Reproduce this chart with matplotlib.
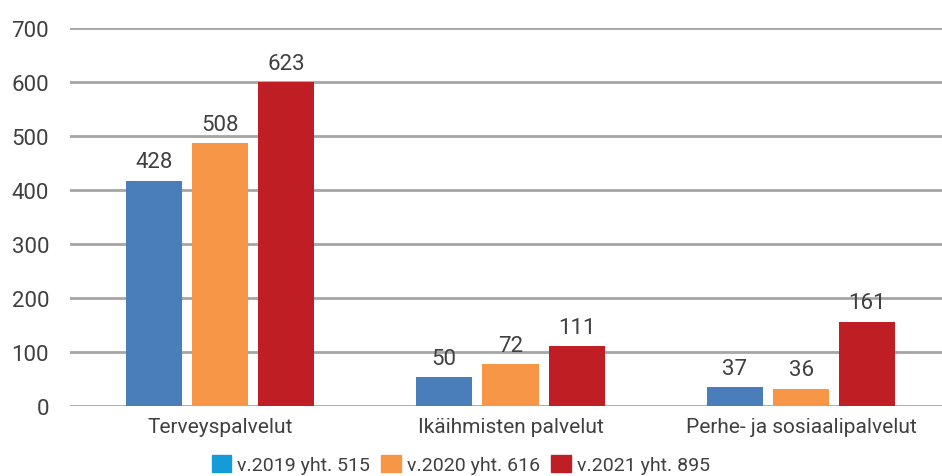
import matplotlib.pyplot as plt
from matplotlib.patches import Patch
import numpy as np

plt.rcParams['font.family'] = ['Roboto', 'DejaVu Sans']

categories = ['Terveyspalvelut', 'Ikäihmisten palvelut', 'Perhe- ja sosiaalipalvelut']
series_names = ['v.2019 yht. 515', 'v.2020 yht. 616', 'v.2021 yht. 895']
# bar heights as drawn in the picture, and the printed labels
heights = [
    [417, 54, 35],
    [487, 78, 32],
    [600, 111, 156],
]
labels = [
    ['428', '50', '37'],
    ['508', '72', '36'],
    ['623', '111', '161'],
]
bar_colors = ['#4a7ebb', '#f79646', '#be1e24']
legend_colors = ['#159bd7', '#f79646', '#be1e24']
text_color = '#404040'

fig = plt.figure(figsize=(9.42, 4.77), dpi=100)
ax = fig.add_axes([70 / 942, 1 - 407 / 477, 872 / 942, 378 / 477])

x = np.arange(len(categories))
width = 0.193
step = 0.228
for i in range(3):
    pos = x + (i - 1) * step
    bars = ax.bar(pos, heights[i], width, color=bar_colors[i], zorder=3)
    for b, lab in zip(bars, labels[i]):
        ax.annotate(lab, (b.get_x() + b.get_width() / 2, b.get_height()),
                    xytext=(0, 6), textcoords='offset points',
                    ha='center', va='bottom', fontsize=16, color=text_color)

ax.set_xlim(-0.516, 2.485)
ax.set_ylim(0, 700)
ax.set_yticks(range(0, 701, 100))
ax.set_xticks(x)
ax.set_xticklabels(categories)
ax.grid(axis='y', color='#a6a6a6', linewidth=2, zorder=0)
for s in ax.spines.values():
    s.set_visible(False)
ax.tick_params(axis='both', length=0, labelsize=15, labelcolor=text_color)
ax.tick_params(axis='y', pad=15, labelsize=16)
ax.tick_params(axis='x', pad=8)

handles = [Patch(color=c) for c in legend_colors]
fig.legend(handles, series_names, loc='center', bbox_to_anchor=(0.489, 0.024),
           ncol=3, frameon=False, fontsize=14, labelcolor=text_color,
           handlelength=1.0, handleheight=1.0, handletextpad=0.3, columnspacing=0.6,
           borderpad=0)

fig.savefig('out.png', dpi=100)
